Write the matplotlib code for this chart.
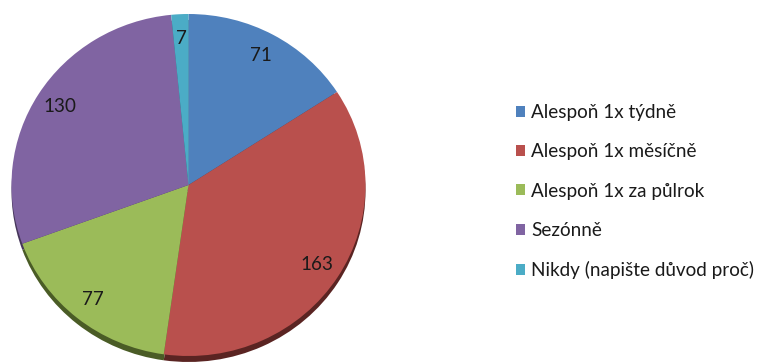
import matplotlib
matplotlib.use("Agg")
import matplotlib.pyplot as plt

categories = [
    "Alespoň 1x týdně",
    "Alespoň 1x měsíčně",
    "Alespoň 1x za půlrok",
    "Sezónně",
    "Nikdy (napište důvod proč)",
]
counts = [71, 163, 77, 130, 7]
colors = ["#4F81BD", "#B9504D", "#9BBB59", "#8064A2", "#4BACC6"]
rim_colors = ["#2c4a70", "#5a2422", "#4a5c26", "#46365a", "#2a6070"]

plt.rcParams["font.family"] = ["Lato", "DejaVu Sans"]

W, H = 763, 363
fig = plt.figure(figsize=(W / 100, H / 100), dpi=100)
fig.patch.set_facecolor("white")

# pie sits in an axes sized so that the disc is slightly squashed (tilted look)
cx, cy, rx, ry = 188.5, 185, 177, 171
ax = fig.add_axes([(cx - rx) / W, (H - cy - ry) / H, 2 * rx / W, 2 * ry / H])

# darker rim underneath for the 3D edge
ax.pie(counts, colors=rim_colors, startangle=90, counterclock=False,
       center=(0, -0.035), wedgeprops=dict(linewidth=0))

total = sum(counts)
wedges, _, autotexts = ax.pie(
    counts, colors=colors, startangle=90, counterclock=False,
    autopct=lambda p: f"{round(p * total / 100)}", pctdistance=0.86,
    wedgeprops=dict(linewidth=0),
    textprops=dict(fontsize=13.6, color="#1a1a1a"),
)
ax.set_aspect("auto")
ax.set_xlim(-1, 1)
ax.set_ylim(-1, 1)
for w in ax.patches:
    w.set_clip_on(False)

fig.legend(
    wedges, categories, loc="upper left",
    bbox_to_anchor=(516 / W, 1 - 104 / H),
    frameon=False, fontsize=13.6,
    handlelength=0.5, handleheight=0.5, handletextpad=0.32,
    labelspacing=1.18, borderpad=0, borderaxespad=0,
    labelcolor="#1a1a1a",
)

fig.savefig("out.png", dpi=100, facecolor="white")
